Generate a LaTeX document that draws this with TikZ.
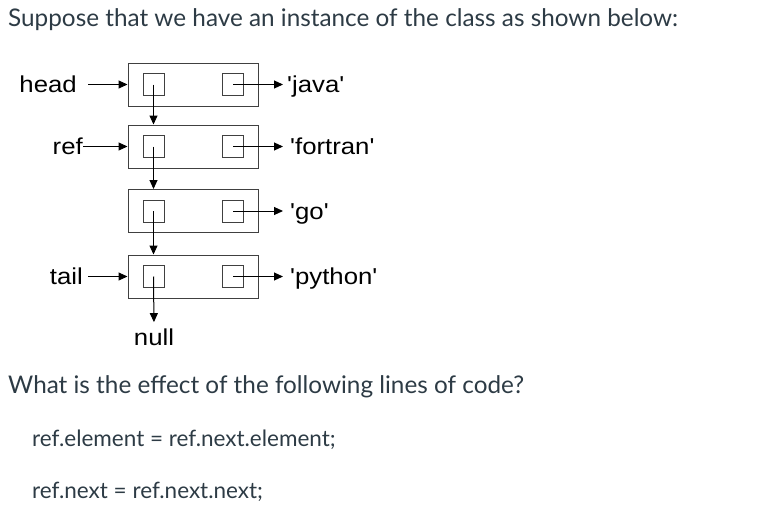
\documentclass[tikz,border=0pt]{standalone}
\usepackage{fontspec}
\setmainfont{Lato}
\newfontfamily\arialfont[FakeStretch=1.12]{Liberation Sans}
\usetikzlibrary{arrows.meta,positioning}
\definecolor{qtext}{HTML}{2D3B45}
\definecolor{boxgray}{HTML}{404040}

\begin{document}
\begin{tikzpicture}[x=1pt, y=-1pt,
  cell/.style={draw=boxgray, line width=1pt, minimum width=130pt, minimum height=43pt, inner sep=0pt},
  slot/.style={draw=boxgray, line width=1pt, minimum width=21pt, minimum height=22pt, inner sep=0pt},
  lbl/.style={font=\arialfont\fontsize{23}{27}\selectfont, inner sep=0pt},
  qtxt/.style={font=\fontsize{24.3}{28}\selectfont, text=qtext, anchor=base west, inner sep=0pt},
  code/.style={font=\fontsize{22.5}{26}\selectfont, text=qtext, anchor=base west, inner sep=0pt},
  arr/.style={-{Triangle[length=9pt,width=8pt]}, line width=1pt},
]
\useasboundingbox (0,0) rectangle (765,522);

% Question text
\node[qtxt] (intro) at (8,27) {Suppose that we have an instance of the class as shown below:};
\node[qtxt] (ask) at (8,393) {What is the effect of the following lines of code?};
\node[code] (line1) at (32,446) {ref.element = ref.next.element;};
\node[code] (line2) at (32,498) {ref.next = ref.next.next;};

% List cells with their next and element slots
\foreach \i/\y in {1/84.5, 2/146.5, 3/211, 4/276.5} {
  \node[cell] (n\i) at (193,\y) {};
  \node[slot] (p\i) at (153.5,\y) {};
  \node[slot] (e\i) at (233,\y) {};
}

% Element values
\node[lbl, anchor=base west] (v1) at (287,92.5)  {'java'};
\node[lbl, anchor=base west] (v2) at (290,154.5) {'fortran'};
\node[lbl, anchor=base west] (v3) at (290,219)   {'go'};
\node[lbl, anchor=base west] (v4) at (290,284.5) {'python'};
\draw[arr, shorten >=4pt] (e1.center) -- (v1.west |- e1.center);
\foreach \i in {2,3,4}
  \draw[arr, shorten >=7pt] (e\i.center) -- (v\i.west |- e\i.center);

% Next links
\foreach \i/\j in {1/2, 2/3, 3/4}
  \draw[arr] (p\i.center) -- (p\i.center |- n\j.north);
\node[lbl, anchor=base] (null) at (154,345) {null};
\draw[arr, shorten >=6pt] (p4.center) -- (null.north);

% References
\node[lbl, anchor=base east] (head) at (77,92.5)  {head};
\node[lbl, anchor=base east] (ref)  at (83,154.5) {ref};
\node[lbl, anchor=base east] (tail) at (83,284.5) {tail};
\draw[arr, shorten <=11pt] (head.east |- n1.west) -- (n1.west);
\draw[arr] (ref.east |- n2.west) -- (n2.west);
\draw[arr, shorten <=5pt] (tail.east |- n4.west) -- (n4.west);

\end{tikzpicture}
\end{document}
